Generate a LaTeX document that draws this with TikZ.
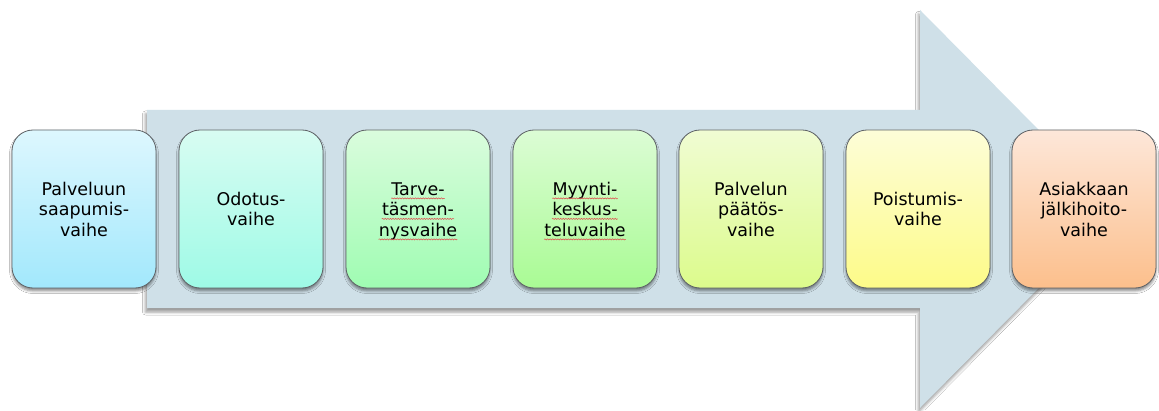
\documentclass[tikz,border=0pt]{standalone}
\usepackage{fontspec}
\setmainfont{DejaVu Sans}
\usetikzlibrary{shadows.blur,decorations.pathmorphing}

% colours of the process arrow and of the phase boxes (top / bottom of each gradient)
\definecolor{arrowfill}{HTML}{CFE0E8}
\definecolor{boxline}{HTML}{5E6266}
\definecolor{spellred}{HTML}{E05050}
\definecolor{topA}{HTML}{DDF7FE}\definecolor{botA}{HTML}{A2E8FC}
\definecolor{topB}{HTML}{D8FCF2}\definecolor{botB}{HTML}{9EFAE6}
\definecolor{topC}{HTML}{DAFCDD}\definecolor{botC}{HTML}{9FFCB2}
\definecolor{topD}{HTML}{DCFCD5}\definecolor{botD}{HTML}{A9FB94}
\definecolor{topE}{HTML}{F0FCD3}\definecolor{botE}{HTML}{DCFB8C}
\definecolor{topF}{HTML}{FDFDD8}\definecolor{botF}{HTML}{FDFB88}
\definecolor{topG}{HTML}{FDE7D9}\definecolor{botG}{HTML}{FCBF8C}

\tikzset{
  phase/.style={draw=boxline, line width=0.8pt, rounded corners=21pt,
    minimum width=144pt, minimum height=158pt, inner sep=0pt,
    align=center, font=\fontsize{17.5pt}{20.5pt}\selectfont,
    blur shadow={shadow xshift=0pt, shadow yshift=-3pt, shadow blur radius=2.5pt, shadow opacity=45}},
  phaseline/.style={anchor=base, inner sep=0pt, font=\fontsize{17.5pt}{20.5pt}\selectfont},
  flow/.style={fill=arrowfill,
    blur shadow={shadow xshift=-1.5pt, shadow yshift=-4pt, shadow blur radius=3pt, shadow opacity=40}},
  spellwave/.style={spellred, line width=0.55pt, decorate,
    decoration={snake, amplitude=0.55pt, segment length=2.6pt}}
}

\begin{document}
\begin{tikzpicture}[x=1pt, y=1pt]
  \useasboundingbox (0,0) rectangle (1159,410);
  \fill[white] (0,0) rectangle (1159,410);

  % the large process arrow behind the phases
  \fill[flow] (147,102) -- (147,300) -- (920,300) -- (920,400)
    -- (1117,201) -- (920,2) -- (920,102) -- cycle;

  % phases of the service process
  \node[phase, top color=topA, bottom color=botA] (s1) at (84,201)
    {Palveluun\\saapumis-\\vaihe};
  \node[phase, top color=topB, bottom color=botB] (s2) at (251,201)
    {Odotus-\\vaihe};
  \node[phase, top color=topC, bottom color=botC] (s3) at (418,201) {};
  \node[phase, top color=topD, bottom color=botD] (s4) at (585,201) {};
  \node[phase, top color=topE, bottom color=botE] (s5) at (751,201)
    {Palvelun\\päätös-\\vaihe};
  \node[phase, top color=topF, bottom color=botF] (s6) at (918,201)
    {Poistumis-\\vaihe};
  \node[phase, top color=topG, bottom color=botG] (s7) at (1084,201)
    {Asiakkaan\\jälkihoito-\\vaihe};

  % text of the third and fourth phase, line by line
  \node[phaseline] (t1) at (418,214.8) {Tarve-};
  \node[phaseline] (t2) at (418,194.3) {täsmen-};
  \node[phaseline] (t3) at (418,173.8) {nysvaihe};
  \node[phaseline] (m1) at (585,214.8) {Myynti-};
  \node[phaseline] (m2) at (585,194.3) {keskus-};
  \node[phaseline] (m3) at (585,173.8) {teluvaihe};

  % spell-check underlines below those words
  \foreach \w in {t1,t2,t3,m1,m2,m3}
    \draw[spellwave] ([yshift=-3.2pt]\w.base west) -- ([yshift=-3.2pt]\w.base east);
\end{tikzpicture}
\end{document}
